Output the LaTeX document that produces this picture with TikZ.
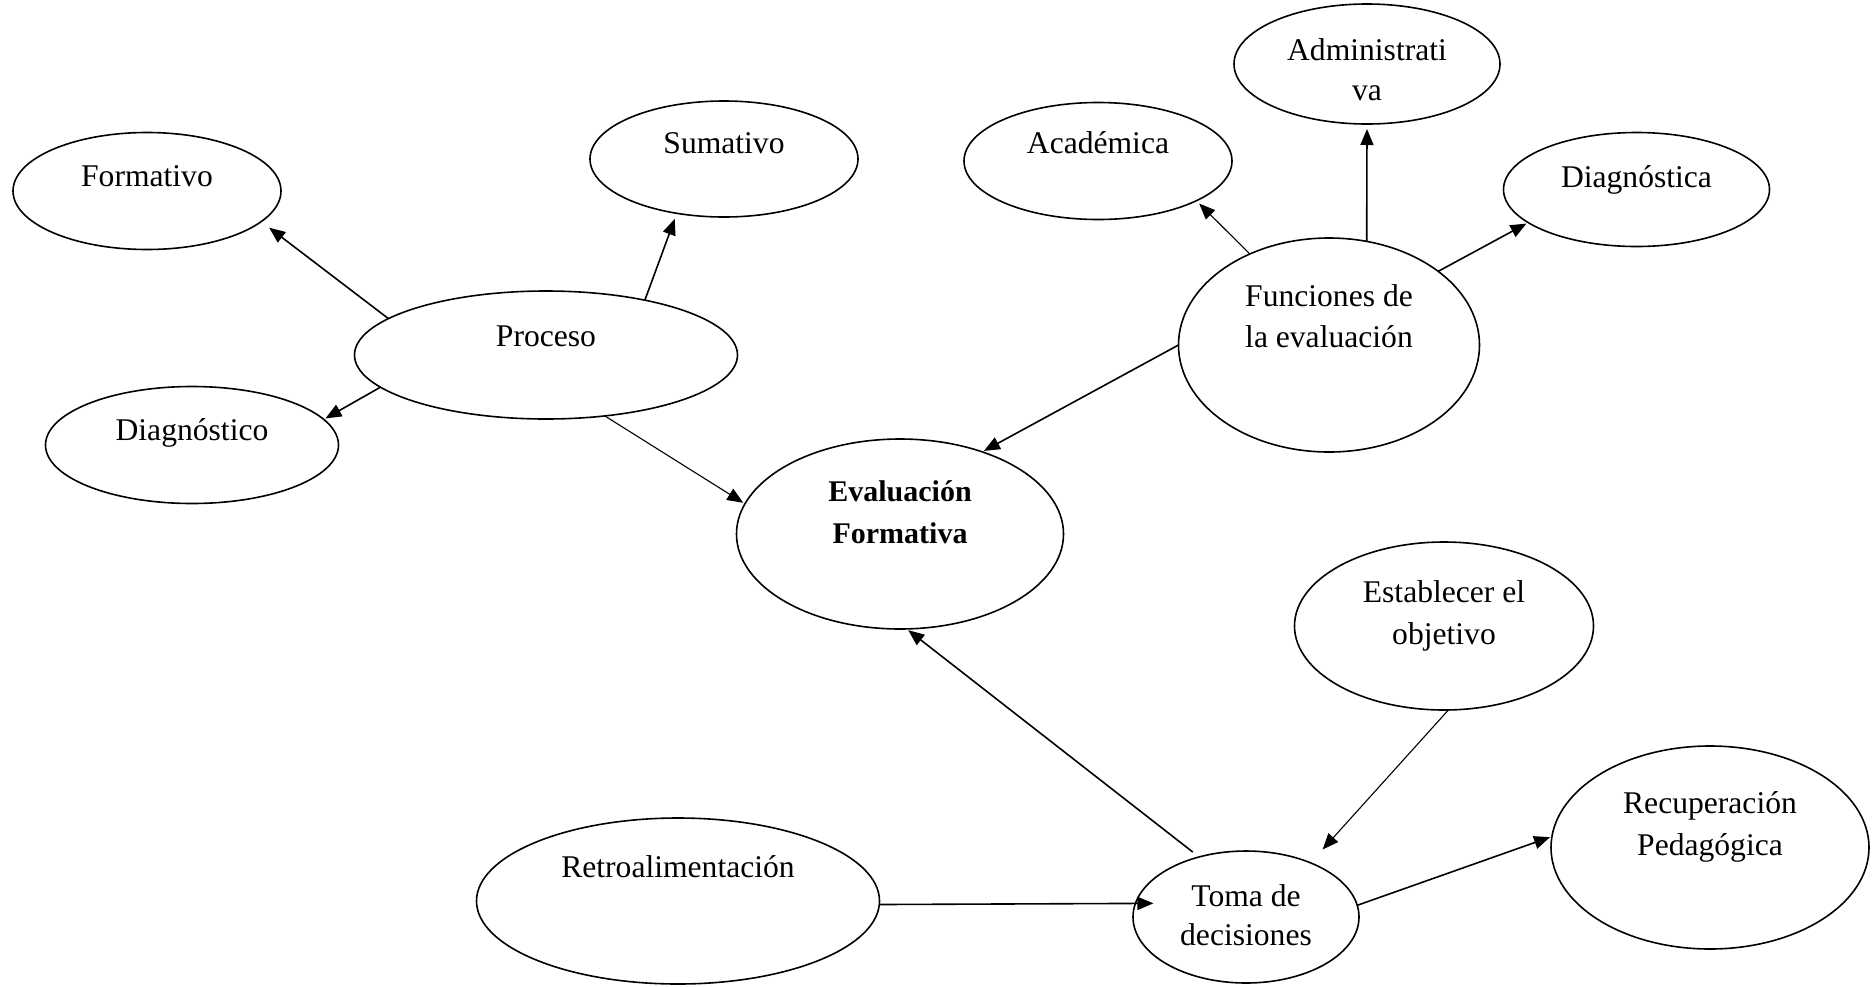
\documentclass[tikz,border=0pt]{standalone}
\usepackage{fontspec}
\setmainfont{Liberation Serif}
\usetikzlibrary{arrows.meta,shapes.geometric}
\newcommand{\ovalfont}{\fontsize{31.6}{41.5}\selectfont}

\begin{document}
\begin{tikzpicture}[>={Triangle[length=16pt,width=13pt]},shorten >=2pt,x=1pt,y=-1pt,
  oval/.style 2 args={ellipse,draw,line width=1.6pt,inner sep=0pt,outer sep=0pt,minimum width=#1,minimum height=#2},
  txt/.style={font=\ovalfont,align=center,inner sep=0pt},
  tight/.style={font=\fontsize{31.6}{39.5}\selectfont},
  thin line/.style={line width=1.1pt}]

\useasboundingbox (0,0) rectangle (1872,986);

\node[oval={268pt}{117pt}]   (form)      at (147,191)      {};
\node[oval={268pt}{116pt}]   (sum)       at (724,159)      {};
\node[oval={383pt}{128pt}]   (proc)      at (546,355)      {};
\node[oval={293pt}{117pt}]   (diago)     at (192,445)      {};
\node[oval={327pt}{190pt}]   (eval)      at (900,534)      {};
\node[oval={268pt}{117pt}]   (acad)      at (1098,161)     {};
\node[oval={266pt}{120pt}]   (admin)     at (1367,64)      {};
\node[oval={266pt}{114pt}]   (diaga)     at (1636.5,189.5) {};
\node[oval={301pt}{214pt}]   (func)      at (1329,345)     {};
\node[oval={299pt}{168pt}]   (estab)     at (1444,626)     {};
\node[oval={318pt}{203pt}]   (recup)     at (1710,847.5)   {};
\node[oval={403pt}{166pt}]   (retro)     at (678,901)      {};
\node[oval={226pt}{132pt}]   (toma)      at (1246,917)     {};

\node[txt]         (form-t)    at (147,176)      {Formativo};
\node[txt]         (sum-t)     at (724,143.5)    {Sumativo};
\node[txt]         (proc-t)    at (546,336)      {Proceso};
\node[txt]         (diago-t)   at (192,433)      {Diagnóstico};
\node[txt,font=\fontsize{30}{41.5}\selectfont\bfseries]   (eval-t)    at (900,512)   {Evaluación\\Formativa};
\node[txt]         (acad-t)    at (1098,143)     {Académica};
\node[txt,tight]   (admin-t)   at (1367,69.5)    {Administrati\\va};
\node[txt]         (diaga-t)   at (1636.5,179.7) {Diagnóstica};
\node[txt]         (func-t)    at (1329,316.4)   {Funciones de\\la evaluación};
\node[txt]         (estab-t)   at (1444,616)     {Establecer el\\objetivo};
\node[txt]         (recup-t)   at (1710,827)     {Recuperación\\Pedagógica};
\node[txt]         (retro-t)   at (678,866.5)    {Retroalimentación};
\node[txt,tight]   (toma-t)    at (1246,915)     {Toma de\\decisiones};

\path[->,line width=1.6pt] (proc.167)   edge[shorten >=10pt]            (form.-15)
                           (proc.29)    edge[shorten >=6pt]             (sum.-131)
                           (proc.191)   edge                            (diago.11)
                           (proc.-46)   edge[thin line]                 (eval.169)
                           (func.131)   edge[thin line,shorten >=4pt]   (acad.-22)
                           (func.70)    edge[shorten >=5pt]             (admin.-90)
                           (func.34)    edge                            (diaga.197)
                           (func.180)   edge                            (eval.45)
                           (toma.128)   edge[shorten <=8pt]             (eval.-86)
                           (estab.-87)  edge[thin line,shorten >=18pt]  (toma.40)
                           (retro.-1.5) edge[shorten >=-18pt]           (toma.173.3)
                           (toma.6.8)   edge                            (recup.176.6);

\end{tikzpicture}
\end{document}
